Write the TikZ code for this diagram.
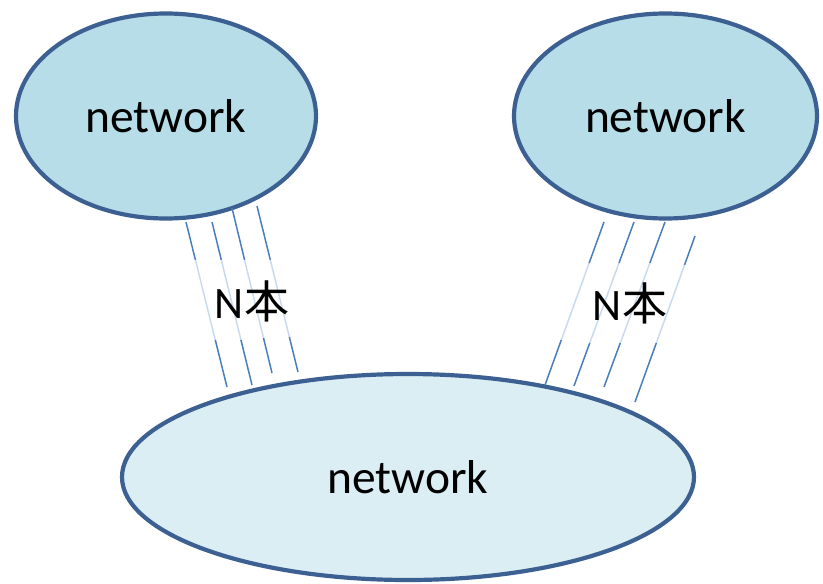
\documentclass[tikz,border=0pt]{standalone}
\usepackage{fontspec}
\setmainfont{Carlito}
\newfontfamily\jpfont{Noto Sans CJK JP}
\usetikzlibrary{shapes.geometric,calc}
\definecolor{netedge}{HTML}{3C6091}
\definecolor{netfill}{HTML}{B7DDE8}
\definecolor{netfilllight}{HTML}{DAEEF3}
\definecolor{wiredark}{HTML}{4A7EBB}
\definecolor{wirepale}{HTML}{C9DAF0}
\tikzset{
  net/.style={ellipse, draw=netedge, line width=4.2pt, fill=netfill, inner sep=0pt,
    font=\fontsize{47.5}{56}\selectfont},
  wire/.style={line width=1.5pt, draw=wiredark},
  count/.style={font=\fontsize{45}{54}\selectfont},
}

\begin{document}
\begin{tikzpicture}[x=1pt,y=-1pt]
  \useasboundingbox (0,0) rectangle (823,584);
  \node[net, minimum width=300pt, minimum height=205pt] (west) at (166,116) {network};
  \node[net, minimum width=303pt, minimum height=205pt] (east) at (665.5,116) {network};
  \node[net, fill=netfilllight, minimum width=572pt, minimum height=206pt] (core) at (408,477) {network};
  % each cable: top end, bottom end, and the y range where it fades out
  \foreach \xa/\ya/\xb/\yb/\pa/\pb in {186/222/227/387/260/340, 212/222/252/385/260/340,
      232/208/272/373/260/338, 257/206/298/372/260/337,
      604/222/545/385/263/340, 634/222/574/386/263/343,
      665/222/604/387/263/343, 695/236/635/402/265/343} {%
    \pgfmathsetmacro{\ta}{(\pa-\ya)/(\yb-\ya)}
    \pgfmathsetmacro{\tb}{(\pb-\ya)/(\yb-\ya)}
    \draw[wire] (\xa,\ya) -- ($(\xa,\ya)!\ta!(\xb,\yb)$);
    \draw[wire, draw=wirepale] ($(\xa,\ya)!\ta!(\xb,\yb)$) -- ($(\xa,\ya)!\tb!(\xb,\yb)$);
    \draw[wire] ($(\xa,\ya)!\tb!(\xb,\yb)$) -- (\xb,\yb);
  }
  \node[count] (westcount) at (252,301) {N{\jpfont 本}};
  \node[count] (eastcount) at (630,303) {N{\jpfont 本}};
\end{tikzpicture}
\end{document}
